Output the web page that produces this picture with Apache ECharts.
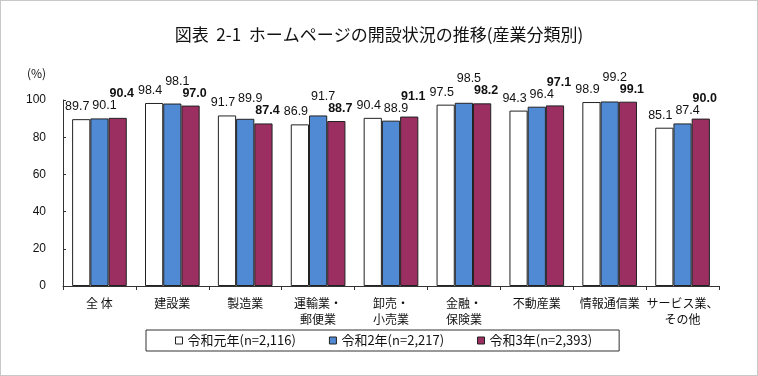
<!DOCTYPE html>
<html>
<head>
<meta charset="utf-8">
<script src="https://cdn.jsdelivr.net/npm/echarts@6/dist/echarts.min.js"></script>
<style>
  html, body { margin: 0; padding: 0; background: #fff; }
  #chart { width: 756px; height: 374px; border: 1px solid #c8c8c8; }
</style>
</head>
<body>
<div id="chart"></div>
<script>
// 産業分類
var categories = ['全 体', '建設業', '製造業', '運輸業・\n郵便業', '卸売・\n小売業', '金融・\n保険業', '不動産業', '情報通信業', 'サービス業、\nその他'];
var seriesNames = ['令和元年(n=2,116)', '令和2年(n=2,217)', '令和3年(n=2,393)'];
var r1 = [89.7, 98.4, 91.7, 86.9, 90.4, 97.5, 94.3, 98.9, 85.1];
var r2 = [90.1, 98.1, 89.9, 91.7, 88.9, 98.5, 96.4, 99.2, 87.4];
var r3 = [90.4, 97.0, 87.4, 88.7, 91.1, 98.2, 97.1, 99.1, 90.0];
var yTicks = [0, 20, 40, 60, 80, 100];

var NUMFONT = '"Liberation Sans", Arial, sans-serif';
var JPFONT = '"Noto Sans CJK JP", sans-serif';
var colors = ['#ffffff', '#5089d4', '#9c2f62'];
var labelDx = [-4, 5, 4];
var allData = [r1, r2, r3];

var chart = echarts.init(document.getElementById('chart'));

// 2年目と3年目のラベルが重なる時は、値の大きい方を上にずらす
function stagger(p) {
  var i = p.dataIndex, s = p.seriesIndex;
  var out = { dx: labelDx[s] };
  if (s === 0) return out;
  var scale = p.rect.height / allData[s][i];
  var gap = (r3[i] - r2[i]) * scale;
  var need = 12;
  if (Math.abs(gap) >= need) return out;
  if (s === 2 && r3[i] >= r2[i]) out.dy = -(need - gap);
  if (s === 1 && r2[i] > r3[i]) out.dy = -(need + gap);
  return out;
}

function bar(i, data) {
  return {
    name: seriesNames[i],
    type: 'bar',
    data: data,
    barGap: '0%',
    barCategoryGap: '25%',
    itemStyle: { color: colors[i], borderColor: '#222', borderWidth: 1 },
    label: {
      show: true, position: 'top', distance: 6,
      fontFamily: NUMFONT, fontSize: 12.5, color: '#111',
      fontWeight: i === 2 ? 'bold' : 'normal',
      formatter: function (p) { return p.value.toFixed(1); }
    },
    labelLayout: stagger
  };
}

chart.setOption({
  animation: false,
  textStyle: { fontFamily: JPFONT },
  title: {
    text: '図表  2-1  ホームページの開設状況の推移(産業分類別)',
    left: 'center', top: 20,
    textStyle: { fontFamily: JPFONT, fontSize: 17, fontWeight: 'normal', color: '#111' }
  },
  graphic: [{
    type: 'text', left: 26, top: 66,
    style: { text: '(%)', font: '12px "Noto Sans CJK JP", sans-serif', fill: '#111' }
  }],
  legend: {
    left: 145, top: 329,
    padding: [4, 27, 4, 29],
    borderColor: '#333', borderWidth: 1,
    itemGap: 33,
    icon: 'rect', itemWidth: 7, itemHeight: 7,
    itemStyle: { borderColor: '#222', borderWidth: 1 },
    textStyle: { fontFamily: JPFONT, fontSize: 13, color: '#111' },
    data: seriesNames
  },
  grid: { left: 62, right: 38, top: 99, bottom: 89 },
  xAxis: {
    type: 'category', data: categories,
    axisLine: { lineStyle: { color: '#333' } },
    axisTick: { show: true, length: 4, lineStyle: { color: '#333' } },
    axisLabel: { fontFamily: JPFONT, fontSize: 12, color: '#111', margin: 9, lineHeight: 16, interval: 0 }
  },
  yAxis: {
    type: 'value', min: 0, max: 100, interval: 20,
    axisLine: { show: true, lineStyle: { color: '#333' } },
    axisTick: { show: true, inside: true, length: 3, lineStyle: { color: '#333' } },
    splitLine: { show: false },
    axisLabel: {
      fontFamily: NUMFONT, fontSize: 12, color: '#111', margin: 17,
      formatter: function (v) { return yTicks.indexOf(v) >= 0 ? String(v) : ''; }
    }
  },
  series: [bar(0, r1), bar(1, r2), bar(2, r3)]
});
</script>
</body>
</html>
